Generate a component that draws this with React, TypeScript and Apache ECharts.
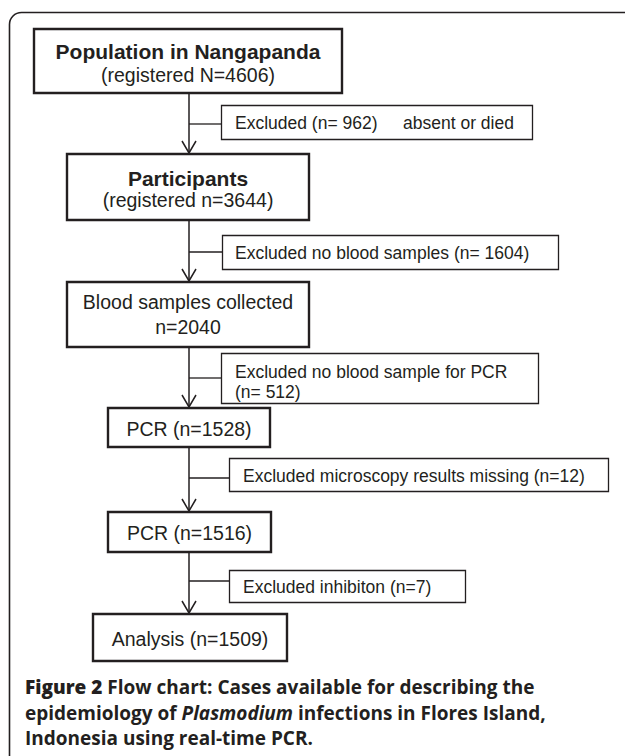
import React, { useEffect, useRef } from "react";
import * as echarts from "echarts";

// ---- Data ----
const mainTitles = ["Population in Nangapanda", "Participants", "Blood samples collected", "PCR", "PCR", "Analysis"];
const mainCounts = ["registered N=4606", "registered n=3644", "n=2040", "n=1528", "n=1516", "n=1509"];
const exclusionLabels = [
  "Excluded (n= 962)",
  "Excluded no blood samples (n= 1604)",
  "Excluded no blood sample for PCR",
  "Excluded microscopy results missing (n=12)",
  "Excluded inhibiton (n=7)",
];
const exclusionExtra = ["absent or died", "", "(n= 512)", "", ""];
const captionBold = "Figure 2";
const captionLines = [
  "Flow chart: Cases available for describing the",
  "epidemiology of ",
  "Indonesia using real-time PCR.",
];
const captionItalic = "Plasmodium";
const captionAfterItalic = " infections in Flores Island,";

// ---- Layout (positions, not data) ----
const mainBoxes = [
  [34, 29, 342, 93],
  [67, 154, 309, 220],
  [67, 282, 309, 347],
  [108, 408, 270, 447],
  [108, 512, 271, 552],
  [93, 614, 287, 661],
];
const exBoxes = [
  [221, 105, 532, 139],
  [222, 235, 558, 269],
  [221, 353, 538, 403],
  [229, 458, 608, 491],
  [229, 570, 465, 602],
];
const exBranchY = [124, 252, 378, 478, 581];
const LX = 189;
const INK = "#231f20";
const ARIAL = "'Liberation Sans', Arial, Helvetica, sans-serif";

function buildGraphics() {
  const els: any[] = [];
  // outer rounded frame
  els.push({
    type: "rect",
    shape: { x: 9.5, y: 12.5, width: 700, height: 900, r: 12 },
    style: { fill: "none", stroke: INK, lineWidth: 1.6 },
  });
  // main vertical connectors with arrows
  for (let i = 0; i < mainBoxes.length - 1; i++) {
    const y1 = mainBoxes[i][3];
    const y2 = mainBoxes[i + 1][1];
    els.push({
      type: "line",
      shape: { x1: LX, y1, x2: LX, y2: y2 - 1 },
      style: { stroke: INK, lineWidth: 1.5 },
    });
    els.push({
      type: "polyline",
      shape: { points: [[LX - 7, y2 - 13], [LX, y2 - 1], [LX + 7, y2 - 13]] },
      style: { stroke: INK, lineWidth: 1.5, fill: "none" },
    });
  }
  // exclusions
  exBoxes.forEach((b, i) => {
    const [x1, y1, x2, y2] = b;
    els.push({
      type: "line",
      shape: { x1: LX, y1: exBranchY[i], x2: x1, y2: exBranchY[i] },
      style: { stroke: INK, lineWidth: 1.3 },
    });
    els.push({
      type: "rect",
      shape: { x: x1 + 0.5, y: y1 + 0.5, width: x2 - x1, height: y2 - y1 },
      style: { fill: "#fff", stroke: INK, lineWidth: 1.3 },
    });
    const twoLine = i === 2;
    els.push({
      type: "text",
      x: i === 3 || i === 4 ? 243 : 235,
      y: twoLine ? y1 + 19 : (y1 + y2) / 2 + 1,
      style: {
        text: exclusionLabels[i],
        fill: INK,
        fontSize: 17.5,
        fontFamily: ARIAL,
        align: "left",
        verticalAlign: "middle",
        textAlign: "left",
        textVerticalAlign: "middle",
      },
    });
    if (exclusionExtra[i]) {
      els.push({
        type: "text",
        x: twoLine ? 235 : 403,
        y: twoLine ? y1 + 39 : (y1 + y2) / 2 + 1,
        style: {
          text: exclusionExtra[i],
          fill: INK,
          fontSize: 17.5,
          fontFamily: ARIAL,
          align: "left",
          verticalAlign: "middle",
          textAlign: "left",
          textVerticalAlign: "middle",
        },
      });
    }
  });
  // main boxes
  mainBoxes.forEach((b, i) => {
    const [x1, y1, x2, y2] = b;
    els.push({
      type: "rect",
      shape: { x: x1, y: y1, width: x2 - x1, height: y2 - y1 },
      style: { fill: "#fff", stroke: INK, lineWidth: 2.4 },
    });
    const cx = (x1 + x2) / 2;
    const txt = (t: string, y: number, bold: boolean, size: number) => ({
      type: "text",
      x: cx,
      y,
      style: {
        text: t,
        fill: INK,
        fontSize: size,
        fontWeight: bold ? "bold" : "normal",
        fontFamily: ARIAL,
        align: "center",
        verticalAlign: "middle",
        textAlign: "center",
        textVerticalAlign: "middle",
      },
    });
    if (i === 0 || i === 1) {
      els.push(txt(mainTitles[i], i === 0 ? 51 : 178, true, 21));
      els.push(txt("(" + mainCounts[i] + ")", i === 0 ? 75 : 200, false, 19.5));
    } else if (i === 2) {
      els.push(txt(mainTitles[i], 302, false, 19.5));
      els.push(txt(mainCounts[i], 327, false, 19.5));
    } else {
      els.push(txt(mainTitles[i] + " (" + mainCounts[i] + ")", (y1 + y2) / 2 + 1, false, 19.5));
    }
  });
  // caption
  const capFont = "'Open Sans', 'Noto Sans', sans-serif";
  const rich = {
    f: { fontFamily: capFont, fontWeight: 800, fontSize: 19, fill: INK },
    b: { fontFamily: capFont, fontWeight: "bold", fontSize: 19, fill: INK },
    i: { fontFamily: capFont, fontWeight: "bold", fontStyle: "italic", fontSize: 19, fill: INK },
  };
  const capLines = [
    "{f|" + captionBold + "} {b|" + captionLines[0] + "}",
    "{b|" + captionLines[1] + "}{i|" + captionItalic + "}{b|" + captionAfterItalic + "}",
    "{b|" + captionLines[2] + "}",
  ];
  [687, 713, 738].forEach((y, k) => {
    els.push({
      type: "text",
      x: 25,
      y,
      style: {
        text: capLines[k],
        rich,
        fill: INK,
        fontSize: 19,
        fontFamily: capFont,
        align: "left",
        verticalAlign: "middle",
        textAlign: "left",
        textVerticalAlign: "middle",
      },
    });
  });
  return els;
}

export default function App() {
  const ref = useRef<HTMLDivElement>(null);
  useEffect(() => {
    if (!ref.current) return;
    const chart = echarts.init(ref.current, null, { renderer: "svg" });
    chart.setOption({
      animation: false,
      backgroundColor: "#fff",
      graphic: { elements: buildGraphics() },
    });
    return () => chart.dispose();
  }, []);
  return (
    <div
      ref={ref}
      style={{ position: "absolute", left: 0, top: 0, width: 625, height: 756, background: "#fff" }}
    />
  );
}
